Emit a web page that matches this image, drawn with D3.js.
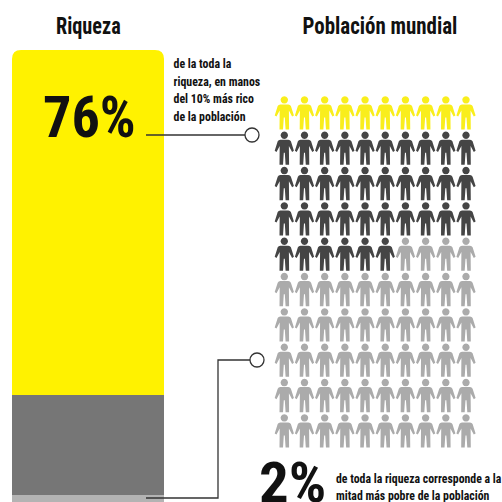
<!DOCTYPE html>
<html><head><meta charset="utf-8">
<script src="https://cdnjs.cloudflare.com/ajax/libs/d3/7.8.5/d3.min.js"></script>
<style>html,body{margin:0;padding:0;background:#fff;overflow:hidden}svg{display:block}
text{font-family:"Liberation Sans Narrow","Roboto Condensed","Liberation Sans",sans-serif;font-weight:700;fill:#111}</style>
</head><body><svg id="c" width="502" height="502"></svg>
<script>
const wealthGroups = ["10% más rico","40% medio","50% más pobre"];
const wealthValues = [76,22,2];
const wealthColors = ["#fff200","#767676","#b3b3b3"];
const peopleCounts = [10,36,54];
const peopleColors = ["#f9ee1c","#454545","#ababab"];
const titles = ["Riqueza","Población mundial"];
const noteTop = ["de la toda la","riqueza, en manos","del 10% más rico","de la población"];
const noteBottom = ["de toda la riqueza corresponde a la","mitad más pobre de la población"];
const bigLabels = ["76%","2%"];

const svg = d3.select("#c");

/* stacked bar */
const y = d3.scaleLinear().domain([0,100]).range([50,504]);
const x = d3.scaleLinear().domain([0,1]).range([12,164]);
let cum = 0;
const stack = wealthValues.map((v,i)=>{const s={i,y0:cum,y1:cum+v};cum+=v;return s;});
svg.append("g").selectAll("path").data(stack).join("path")
  .attr("fill",d=>wealthColors[d.i])
  .attr("d",d=>{
    const p=d3.path(),x0=x(0),x1=x(1),t=y(d.y0),b=y(d.y1),r=d.i===0?9:0;
    p.moveTo(x0,b);p.lineTo(x0,t+r);
    if(r)p.quadraticCurveTo(x0,t,x0+r,t);
    p.lineTo(x1-r,t);
    if(r)p.quadraticCurveTo(x1,t,x1,t+r);
    p.lineTo(x1,b);p.closePath();return p.toString();
  });

/* pictogram */
const people = [];
peopleCounts.forEach((n,g)=>{for(let k=0;k<n;k++)people.push(g);});
const col = d3.scalePoint().domain(d3.range(10)).range([284.3,466]);
const row = d3.scalePoint().domain(d3.range(10)).range([96,414]);
const icon = "M0,0.2a3.7,3.7 0 1,0 0.01,0Z"+
 "M-4,8.4L4,8.4Q5.8,8.4 6.6,10L9.6,19.4L7.8,20.6L4.6,14.6L4.8,33.5L1.3,33.5L0.5,21.5L-0.5,21.5L-1.3,33.5L-4.8,33.5L-4.6,14.6L-7.8,20.6L-9.6,19.4L-6.6,10Q-5.8,8.4 -4,8.4Z";
svg.append("g").selectAll("path").data(people).join("path")
  .attr("d",icon)
  .attr("fill",d=>peopleColors[d])
  .attr("transform",(d,i)=>`translate(${col(i%10)},${row(Math.floor(i/10))})`);

/* connectors */
const line = d3.line();
const leaders = [
  [[146,135],[245,135]],
  [[146,498],[218,498],[218,360],[250,360]]
];
svg.append("g").selectAll("path").data(leaders).join("path")
  .attr("d",line).attr("fill","none").attr("stroke","#333").attr("stroke-width",1.3);
svg.append("g").selectAll("circle").data([[252,135],[257,360]]).join("circle")
  .attr("cx",d=>d[0]).attr("cy",d=>d[1]).attr("r",7)
  .attr("fill","#fff").attr("stroke","#333").attr("stroke-width",1.3);

/* text, condensed horizontally */
function label(str,px,py,size,sx){
  return svg.append("text").attr("transform",`translate(${px},${py}) scale(${sx},1)`)
    .attr("font-size",size).text(str);
}
label(titles[0],56,34,23,0.88);
label(titles[1],302.5,34,23,0.91);
label(bigLabels[0],43,137,58,0.97);
label(bigLabels[1],259,501.5,55,1.07);
noteTop.forEach((t,i)=>label(t,173.5,[68,86,103,121][i],12.5,0.95));
noteBottom.forEach((t,i)=>label(t,336,[482.5,500][i],12.5,0.945));
</script></body></html>
